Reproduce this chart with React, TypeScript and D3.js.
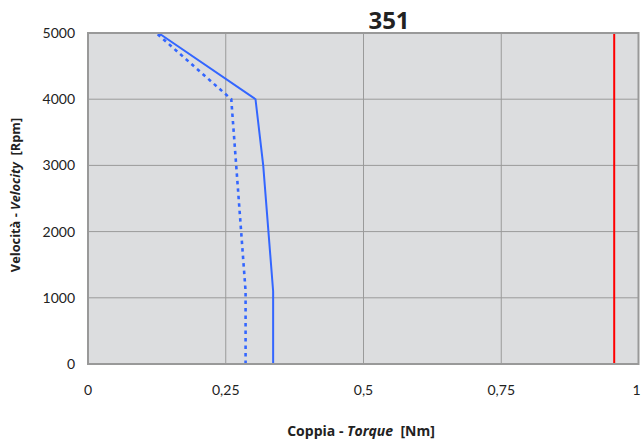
import React from "react";
import * as d3 from "d3";

const title = "351";
const xTicks = [0, 0.25, 0.5, 0.75, 1];
const xTickLabels = ["0", "0,25", "0,5", "0,75", "1"];
const yTicks = [0, 1000, 2000, 3000, 4000, 5000];

const solidSpeed = [0, 1100, 3000, 4000, 5000];
const solidTorque = [0.336, 0.336, 0.318, 0.304, 0.128];

const dashedSpeed = [0, 1100, 4000, 5000];
const dashedTorque = [0.286, 0.286, 0.26, 0.124];

const limitTorque = 0.955;

const W = 641;
const H = 442;
const left = 88;
const right = 638.5;
const top = 33;
const bottom = 364;

export default function App() {
  const x = d3.scaleLinear().domain([0, 1]).range([left, right + 0.5]);
  const y = d3.scaleLinear().domain([0, 5000]).range([bottom, top]);

  const line = d3
    .line<[number, number]>()
    .x((d) => x(d[0]))
    .y((d) => y(d[1]));

  const solidPts: [number, number][] = solidSpeed.map((s, i) => [solidTorque[i], s]);
  const dashedPts: [number, number][] = dashedSpeed.map((s, i) => [dashedTorque[i], s]);

  const font = "Lato, 'Open Sans', 'DejaVu Sans', sans-serif";
  const titleFont = "'Open Sans', Lato, sans-serif";

  return (
    <svg
      width={W}
      height={H}
      style={{ position: "absolute", left: 0, top: 0, background: "#fff" }}
      fontFamily={font}
    >
      <rect x={left} y={top} width={right - left} height={bottom - top} fill="#DCDDDF" />
      {xTicks.slice(1, -1).map((t) => (
        <line key={"gx" + t} x1={x(t)} x2={x(t)} y1={top} y2={bottom} stroke="#9A9A9A" strokeWidth={1} />
      ))}
      {yTicks.slice(1, -1).map((t) => (
        <line key={"gy" + t} x1={left} x2={right} y1={y(t)} y2={y(t)} stroke="#9A9A9A" strokeWidth={1} />
      ))}
      <path d={line(dashedPts) || ""} fill="none" stroke="#3366FF" strokeWidth={2.6} strokeDasharray="3.5 4" />
      <path d={line(solidPts) || ""} fill="none" stroke="#3366FF" strokeWidth={2} strokeLinejoin="miter" />
      <line x1={x(limitTorque)} x2={x(limitTorque)} y1={top} y2={bottom} stroke="#FF0000" strokeWidth={2} />
      <rect
        x={left}
        y={top}
        width={right - left}
        height={bottom - top}
        fill="none"
        stroke="#999999"
        strokeWidth={2}
      />
      {yTicks.map((t) => (
        <text key={"yl" + t} x={75} y={y(t) + 5} textAnchor="end" fontSize={14} fill="#222">
          {t}
        </text>
      ))}
      {xTicks.map((t, i) => (
        <text
          key={"xl" + t}
          x={i === xTicks.length - 1 ? W - 0.5 : x(t)}
          y={395}
          textAnchor={i === xTicks.length - 1 ? "end" : "middle"}
          fontSize={14}
          fill="#222"
        >
          {xTickLabels[i]}
        </text>
      ))}
      <text x={389} y={29} textAnchor="middle" fontSize={24} fontWeight="bold" fill="#222" fontFamily={titleFont}>
        {title}
      </text>
      <text
        x={361}
        y={436}
        textAnchor="middle"
        fontSize={14}
        fontWeight="bold"
        fill="#222"
        fontFamily={titleFont}
        style={{ whiteSpace: "pre" }}
      >
        Coppia - <tspan fontStyle="italic">Torque</tspan>
        {"  [Nm]"}
      </text>
      <text
        transform="translate(20,195) rotate(-90)"
        textAnchor="middle"
        fontSize={12.8}
        fontWeight="bold"
        fill="#222"
        fontFamily={titleFont}
        style={{ whiteSpace: "pre" }}
      >
        Velocità - <tspan fontStyle="italic">Velocity</tspan>
        {"  [Rpm]"}
      </text>
    </svg>
  );
}
